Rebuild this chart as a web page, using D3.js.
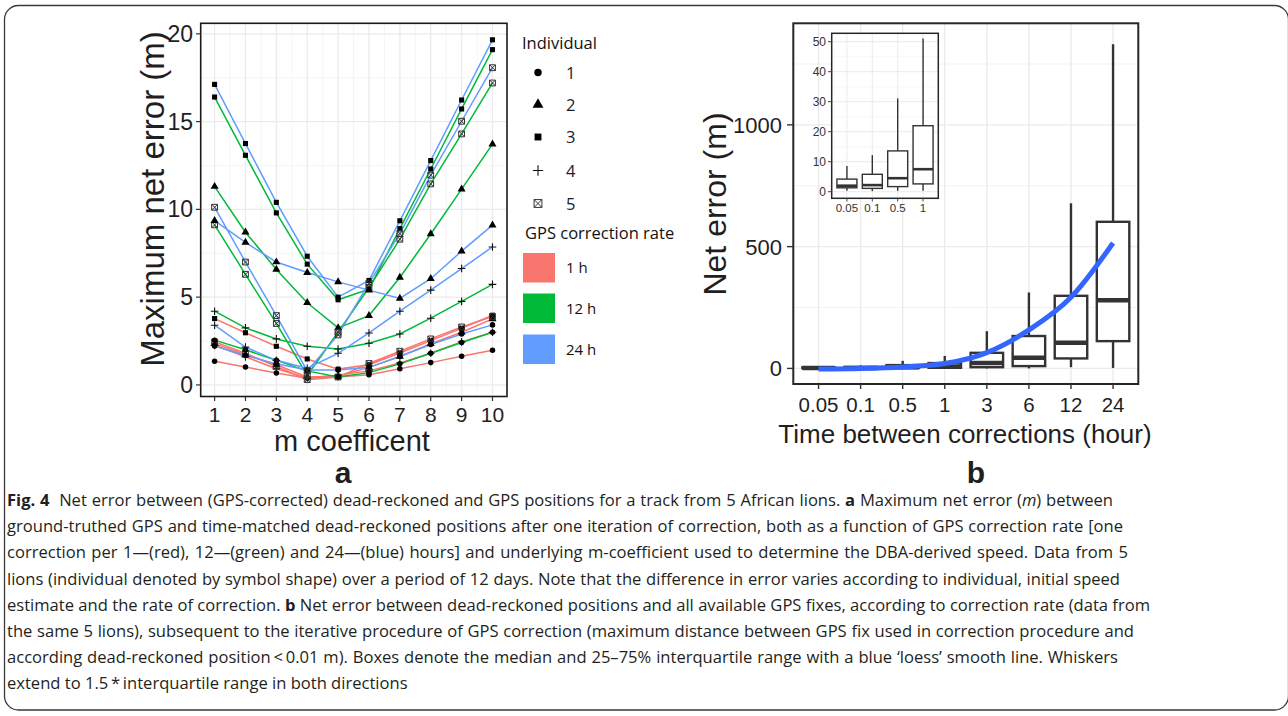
<!DOCTYPE html>
<html>
<head>
<meta charset="utf-8">
<script src="https://cdn.jsdelivr.net/npm/d3@7"></script>
<style>
  body { margin: 0; background: #fff; }
  svg { display: block; }
</style>
</head>
<body>
<svg id="fig" width="1288" height="716"></svg>
<script>
// ---- panel a data: max net error (m) per m coefficient ----
const mCoef = [1, 2, 3, 4, 5, 6, 7, 8, 9, 10];
const individuals = ["1", "2", "3", "4", "5"];
const rates = ["1 h", "12 h", "24 h"];
const rateColors = ["#F8766D", "#00BA38", "#619CFF"];

// one row per individual (1..5)
const err1h = [
  [1.35, 1.02, 0.68, 0.38, 0.45, 0.58, 0.92, 1.27, 1.63, 1.98],
  [2.35, 1.72, 1.15, 0.45, 0.5, 1.0, 1.62, 2.35, 3.0, 3.76],
  [3.78, 2.97, 2.2, 1.48, 0.9, 1.15, 1.82, 2.52, 3.22, 3.97],
  [2.25, 1.6, 0.92, 0.4, 0.55, 0.8, 1.25, 1.8, 2.45, 3.0],
  [2.45, 1.8, 1.05, 0.3, 0.45, 1.22, 1.92, 2.62, 3.3, 3.9]
];
const err12h = [
  [2.55, 2.0, 1.4, 0.8, 0.45, 0.7, 1.2, 1.8, 2.42, 3.0],
  [11.3, 8.7, 6.58, 4.68, 3.25, 3.95, 6.12, 8.6, 11.15, 13.72],
  [16.4, 13.08, 9.8, 6.88, 4.85, 5.45, 8.9, 12.3, 15.72, 19.1],
  [4.2, 3.25, 2.62, 2.2, 2.05, 2.37, 2.9, 3.8, 4.76, 5.73],
  [9.12, 6.3, 3.5, 0.55, 3.0, 5.55, 8.3, 11.45, 14.3, 17.2]
];
const err24h = [
  [2.22, 1.68, 1.2, 0.85, 0.85, 1.0, 1.62, 2.3, 2.9, 3.42],
  [9.36, 8.12, 7.0, 6.4, 5.87, 5.4, 4.93, 6.05, 7.62, 9.1],
  [17.12, 13.75, 10.4, 7.33, 5.0, 5.95, 9.35, 12.78, 16.23, 19.66],
  [3.4, 2.15, 1.4, 0.95, 1.8, 2.96, 4.2, 5.4, 6.63, 7.86],
  [10.12, 7.0, 3.95, 0.8, 2.85, 5.8, 8.62, 11.95, 15.02, 18.07]
];
const aTicks = [0, 5, 10, 15, 20];

// ---- panel b data: net error (m) by time between corrections ----
const hours = ["0.05", "0.1", "0.5", "1", "3", "6", "12", "24"];
const q1 = [1.3, 1.1, 1.7, 2.6, 5, 9.5, 41, 112];
const median = [2.0, 2.2, 4.5, 7.5, 22, 44, 105, 280];
const q3 = [4.2, 5.8, 13.6, 22, 64, 133, 298, 602];
const whiskLo = [0.3, 0.2, 0.3, 0.3, 0, 0, 5, 2];
const whiskHi = [8.6, 12.2, 31.1, 51.1, 153, 312, 678, 1331];
const loessFit = [-2, 0, 6, 20, 65, 158, 292, 515];
const bTicks = [0, 500, 1000];
const insetTicks = [0, 10, 20, 30, 40, 50];

const captionLines = [
  [["Fig. 4", "b"], ["  Net error between (GPS-corrected) dead-reckoned and GPS positions for a track from 5 African lions. ", ""], ["a", "b"], [" Maximum net error (", ""], ["m", "i"], [") between", ""]],
  [["ground-truthed GPS and time-matched dead-reckoned positions after one iteration of correction, both as a function of GPS correction rate [one", ""]],
  [["correction per 1\u2014(red), 12\u2014(green) and 24\u2014(blue) hours] and underlying m-coefficient used to determine the DBA-derived speed. Data from 5", ""]],
  [["lions (individual denoted by symbol shape) over a period of 12 days. Note that the difference in error varies according to individual, initial speed", ""]],
  [["estimate and the rate of correction. ", ""], ["b", "b"], [" Net error between dead-reckoned positions and all available GPS fixes, according to correction rate (data from", ""]],
  [["the same 5 lions), subsequent to the iterative procedure of GPS correction (maximum distance between GPS fix used in correction procedure and", ""]],
  [["according dead-reckoned position\u2009<\u20090.01 m). Boxes denote the median and 25\u201375% interquartile range with a blue \u2018loess\u2019 smooth line. Whiskers", ""]],
  [["extend to 1.5\u2009*\u2009interquartile range in both directions", ""]]
];
// justified right edges; the last line is left ragged
const captionRight = [1113, 1123, 1128, 1120, 1150, 1134, 1118, null];

const svg = d3.select("#fig");
const chartFont = "'Liberation Sans', Arial, sans-serif";
const ink = "#1f1f1f";

svg.append("rect")
  .attr("x", 4.5).attr("y", 5.5)
  .attr("width", 1284).attr("height", 704.5)
  .attr("rx", 14)
  .attr("fill", "#fff").attr("stroke", "#3a3a3a").attr("stroke-width", 1.3);

// ================= panel a =================
const ax = d3.scaleLinear().domain([0.55, 10.47]).range([200.7, 507]);
const ay = d3.scaleLinear().domain([-0.66, 20.6]).range([396.5, 23.3]);
const pa = svg.append("g").attr("class", "panel-a");

pa.selectAll("line.minor-y")
  .data([2.5, 7.5, 12.5, 17.5]).enter().append("line")
  .attr("x1", ax.range()[0]).attr("x2", ax.range()[1])
  .attr("y1", (d) => ay(d)).attr("y2", (d) => ay(d))
  .attr("stroke", "#f3f3f3").attr("stroke-width", 0.8);
pa.selectAll("line.minor-x")
  .data(d3.range(1.5, 10, 1)).enter().append("line")
  .attr("y1", ay.range()[0]).attr("y2", ay.range()[1])
  .attr("x1", (d) => ax(d)).attr("x2", (d) => ax(d))
  .attr("stroke", "#f3f3f3").attr("stroke-width", 0.8);
pa.selectAll("line.major-y")
  .data(aTicks).enter().append("line")
  .attr("x1", ax.range()[0]).attr("x2", ax.range()[1])
  .attr("y1", (d) => ay(d)).attr("y2", (d) => ay(d))
  .attr("stroke", "#ebebeb").attr("stroke-width", 1.3);
pa.selectAll("line.major-x")
  .data(mCoef).enter().append("line")
  .attr("y1", ay.range()[0]).attr("y2", ay.range()[1])
  .attr("x1", (d) => ax(d)).attr("x2", (d) => ax(d))
  .attr("stroke", "#ebebeb").attr("stroke-width", 1.3);

const allRates = [err1h, err12h, err24h];
const series = [];
allRates.forEach((rows, r) => {
  rows.forEach((vals, i) => {
    series.push({ rate: r, ind: i, pts: vals.map((v, k) => [mCoef[k], v]) });
  });
});

const aLine = d3.line().x((d) => ax(d[0])).y((d) => ay(d[1]));
pa.selectAll("path.series")
  .data(series).enter().append("path")
  .attr("d", (d) => aLine(d.pts))
  .attr("fill", "none")
  .attr("stroke", (d) => rateColors[d.rate])
  .attr("stroke-width", 1.5);

// ggplot shapes 16, 17, 15, 3, 7
function shapePath(ind, s) {
  if (ind === 0) return d3.symbol(d3.symbolCircle, 24 * s * s)();
  if (ind === 1) return d3.symbol(d3.symbolTriangle, 28 * s * s)();
  if (ind === 2) return d3.symbol(d3.symbolSquare, 26 * s * s)();
  const h = 3.8 * s;
  if (ind === 3) return "M" + -h + ",0H" + h + "M0," + -h + "V" + h;
  const q = 2.9 * s;
  return "M" + -q + "," + -q + "H" + q + "V" + q + "H" + -q + "Z" +
    "M" + -q + "," + -q + "L" + q + "," + q + "M" + q + "," + -q + "L" + -q + "," + q;
}
function styleShape(sel, ind, s) {
  const stroked = ind >= 3;
  sel.attr("d", shapePath(ind, s))
    .attr("fill", stroked ? "none" : "#000")
    .attr("stroke", stroked ? (ind === 4 ? "#333" : "#111") : "none")
    .attr("stroke-width", ind === 4 ? 1 : 1.1);
}

series.forEach((sr) => {
  pa.selectAll(null)
    .data(sr.pts).enter().append("path")
    .attr("transform", (d) => "translate(" + ax(d[0]) + "," + ay(d[1]) + ")")
    .each(function () { styleShape(d3.select(this), sr.ind, 1); });
});

pa.append("rect")
  .attr("x", ax.range()[0]).attr("y", ay.range()[1])
  .attr("width", ax.range()[1] - ax.range()[0])
  .attr("height", ay.range()[0] - ay.range()[1])
  .attr("fill", "none").attr("stroke", "#1a1a1a").attr("stroke-width", 1.6);

pa.selectAll("line.ytick")
  .data(aTicks).enter().append("line")
  .attr("x1", 196).attr("x2", 200.7)
  .attr("y1", (d) => ay(d)).attr("y2", (d) => ay(d))
  .attr("stroke", "#333").attr("stroke-width", 1.2);
pa.selectAll("text.ytick")
  .data(aTicks).enter().append("text")
  .attr("x", 193).attr("y", (d) => ay(d) + 8)
  .attr("text-anchor", "end")
  .style("font", "23px " + chartFont).attr("fill", ink)
  .text((d) => d);
pa.selectAll("line.xtick")
  .data(mCoef).enter().append("line")
  .attr("y1", 396.5).attr("y2", 401)
  .attr("x1", (d) => ax(d)).attr("x2", (d) => ax(d))
  .attr("stroke", "#333").attr("stroke-width", 1.2);
pa.selectAll("text.xtick")
  .data(mCoef).enter().append("text")
  .attr("x", (d) => ax(d)).attr("y", 421.5)
  .attr("text-anchor", "middle")
  .style("font", "21px " + chartFont).attr("fill", ink)
  .text((d) => d);

pa.append("text")
  .attr("transform", "translate(164,199) rotate(-90)")
  .attr("text-anchor", "middle")
  .style("font", "33px " + chartFont).attr("fill", ink)
  .text("Maximum net error (m)");
pa.append("text")
  .attr("x", 352).attr("y", 450.5)
  .attr("text-anchor", "middle")
  .style("font", "29px " + chartFont).attr("fill", ink)
  .text("m coefficent");
pa.append("text")
  .attr("x", 343).attr("y", 482.5)
  .attr("text-anchor", "middle")
  .style("font", "bold 30px " + chartFont).attr("fill", ink)
  .text("a");

// legend
const legFont = "'Open Sans', sans-serif";
const leg = svg.append("g").attr("class", "legend");
const legRows = [72.5, 104.5, 137, 170.5, 203.5];
leg.append("text")
  .attr("x", 522).attr("y", 49)
  .style("font", "16.5px " + legFont).attr("fill", "#111")
  .text("Individual");
individuals.forEach((name, i) => {
  leg.append("path")
    .attr("transform", "translate(538," + legRows[i] + ")")
    .each(function () { styleShape(d3.select(this), i, 1.35); });
  leg.append("text")
    .attr("x", 566).attr("y", legRows[i] + 6)
    .style("font", "16.5px " + legFont).attr("fill", "#1a1a2e")
    .text(name);
});
leg.append("text")
  .attr("x", 525).attr("y", 239)
  .style("font", "16.5px " + legFont).attr("fill", "#111")
  .text("GPS correction rate");
const keyTop = [253, 293.5, 334.5];
rates.forEach((name, r) => {
  leg.append("rect")
    .attr("x", 523).attr("y", keyTop[r])
    .attr("width", 32).attr("height", 29.5)
    .attr("fill", rateColors[r]);
  leg.append("text")
    .attr("x", 566).attr("y", keyTop[r] + 20)
    .style("font", "15px " + legFont).attr("fill", "#111")
    .text(name);
});

// ================= panel b =================
const bx = d3.scalePoint().domain(hours).range([793.3, 1138.3]).padding(0.6);
const by = d3.scaleLinear().domain([-64, 1417]).range([384, 23.3]);
const pb = svg.append("g").attr("class", "panel-b");

pb.selectAll("line.minor-y")
  .data([250, 750, 1250]).enter().append("line")
  .attr("x1", 793.3).attr("x2", 1138.3)
  .attr("y1", (d) => by(d)).attr("y2", (d) => by(d))
  .attr("stroke", "#f3f3f3").attr("stroke-width", 1);
pb.selectAll("line.major-y")
  .data(bTicks).enter().append("line")
  .attr("x1", 793.3).attr("x2", 1138.3)
  .attr("y1", (d) => by(d)).attr("y2", (d) => by(d))
  .attr("stroke", "#ebebeb").attr("stroke-width", 1.4);
pb.selectAll("line.major-x")
  .data(hours).enter().append("line")
  .attr("y1", 384).attr("y2", 23.3)
  .attr("x1", (d) => bx(d)).attr("x2", (d) => bx(d))
  .attr("stroke", "#ebebeb").attr("stroke-width", 1.4);

function drawBoxes(g, xs, ys, keys, boxW, lw, medW) {
  const rows = keys.map((k) => {
    const i = hours.indexOf(k);
    return { k: k, lo: whiskLo[i], q1: q1[i], med: median[i], q3: q3[i], hi: whiskHi[i] };
  });
  const bg = g.selectAll(null).data(rows).enter().append("g");
  bg.append("line")
    .attr("x1", (d) => xs(d.k)).attr("x2", (d) => xs(d.k))
    .attr("y1", (d) => ys(d.hi)).attr("y2", (d) => ys(d.q3))
    .attr("stroke", "#333").attr("stroke-width", lw);
  bg.append("line")
    .attr("x1", (d) => xs(d.k)).attr("x2", (d) => xs(d.k))
    .attr("y1", (d) => ys(d.q1)).attr("y2", (d) => ys(d.lo))
    .attr("stroke", "#333").attr("stroke-width", lw);
  bg.append("rect")
    .attr("x", (d) => xs(d.k) - boxW / 2).attr("width", boxW)
    .attr("y", (d) => ys(d.q3))
    .attr("height", (d) => ys(d.q1) - ys(d.q3))
    .attr("fill", "#fff").attr("stroke", "#333").attr("stroke-width", lw);
  bg.append("line")
    .attr("x1", (d) => xs(d.k) - boxW / 2).attr("x2", (d) => xs(d.k) + boxW / 2)
    .attr("y1", (d) => ys(d.med)).attr("y2", (d) => ys(d.med))
    .attr("stroke", "#333").attr("stroke-width", medW);
}
drawBoxes(pb, bx, by, hours, 32.5, 2.4, 4.5);

pb.append("path")
  .datum(hours.map((h, i) => [h, loessFit[i]]))
  .attr("d", d3.line().curve(d3.curveMonotoneX).x((d) => bx(d[0])).y((d) => by(d[1])))
  .attr("fill", "none").attr("stroke", "#3366FF").attr("stroke-width", 5);

pb.append("rect")
  .attr("x", 793.3).attr("y", 23.3)
  .attr("width", 345).attr("height", 360.7)
  .attr("fill", "none").attr("stroke", "#262626").attr("stroke-width", 2);

pb.selectAll("line.ytick")
  .data(bTicks).enter().append("line")
  .attr("x1", 787).attr("x2", 793.3)
  .attr("y1", (d) => by(d)).attr("y2", (d) => by(d))
  .attr("stroke", "#333").attr("stroke-width", 1.4);
pb.selectAll("text.ytick")
  .data(bTicks).enter().append("text")
  .attr("x", 782).attr("y", (d) => by(d) + 8)
  .attr("text-anchor", "end")
  .style("font", "22px " + chartFont).attr("fill", ink)
  .text((d) => d);
pb.selectAll("line.xtick")
  .data(hours).enter().append("line")
  .attr("y1", 384).attr("y2", 389)
  .attr("x1", (d) => bx(d)).attr("x2", (d) => bx(d))
  .attr("stroke", "#333").attr("stroke-width", 1.4);
pb.selectAll("text.xtick")
  .data(hours).enter().append("text")
  .attr("x", (d) => bx(d)).attr("y", 411.5)
  .attr("text-anchor", "middle")
  .style("font", "20.5px " + chartFont).attr("fill", ink)
  .text((d) => d);

pb.append("text")
  .attr("transform", "translate(726,204) rotate(-90)")
  .attr("text-anchor", "middle")
  .style("font", "32px " + chartFont).attr("fill", ink)
  .text("Net error (m)");
pb.append("text")
  .attr("x", 965).attr("y", 443)
  .attr("text-anchor", "middle")
  .style("font", "26px " + chartFont).attr("fill", ink)
  .text("Time between corrections (hour)");
pb.append("text")
  .attr("x", 976).attr("y", 482.5)
  .attr("text-anchor", "middle")
  .style("font", "bold 30px " + chartFont).attr("fill", ink)
  .text("b");

// inset: the four shortest intervals
const insetHours = hours.slice(0, 4);
const ix = d3.scalePoint().domain(insetHours).range([831.7, 938.3]).padding(0.6);
const iy = d3.scaleLinear().domain([-2.2, 52.8]).range([198.3, 33.3]);
const inset = svg.append("g").attr("class", "inset");
inset.append("rect")
  .attr("x", 831.7).attr("y", 33.3).attr("width", 106.6).attr("height", 165)
  .attr("fill", "#fff");
inset.selectAll("line.minor-y")
  .data([5, 15, 25, 35, 45]).enter().append("line")
  .attr("x1", 831.7).attr("x2", 938.3)
  .attr("y1", (d) => iy(d)).attr("y2", (d) => iy(d))
  .attr("stroke", "#f3f3f3").attr("stroke-width", 0.7);
inset.selectAll("line.major-y")
  .data(insetTicks).enter().append("line")
  .attr("x1", 831.7).attr("x2", 938.3)
  .attr("y1", (d) => iy(d)).attr("y2", (d) => iy(d))
  .attr("stroke", "#ebebeb").attr("stroke-width", 1);
inset.selectAll("line.major-x")
  .data(insetHours).enter().append("line")
  .attr("y1", 33.3).attr("y2", 198.3)
  .attr("x1", (d) => ix(d)).attr("x2", (d) => ix(d))
  .attr("stroke", "#ebebeb").attr("stroke-width", 1);
drawBoxes(inset, ix, iy, insetHours, 20, 1.4, 2.6);
inset.append("rect")
  .attr("x", 831.7).attr("y", 33.3).attr("width", 106.6).attr("height", 165)
  .attr("fill", "none").attr("stroke", "#262626").attr("stroke-width", 1.5);
inset.selectAll("line.ytick")
  .data(insetTicks).enter().append("line")
  .attr("x1", 828).attr("x2", 831.7)
  .attr("y1", (d) => iy(d)).attr("y2", (d) => iy(d))
  .attr("stroke", "#444").attr("stroke-width", 1);
inset.selectAll("text.ytick")
  .data(insetTicks).enter().append("text")
  .attr("x", 826).attr("y", (d) => iy(d) + 4.2)
  .attr("text-anchor", "end")
  .style("font", "12px " + chartFont).attr("fill", "#333")
  .text((d) => d);
inset.selectAll("line.xtick")
  .data(insetHours).enter().append("line")
  .attr("y1", 198.3).attr("y2", 201.5)
  .attr("x1", (d) => ix(d)).attr("x2", (d) => ix(d))
  .attr("stroke", "#444").attr("stroke-width", 1);
inset.selectAll("text.xtick")
  .data(insetHours).enter().append("text")
  .attr("x", (d) => ix(d)).attr("y", 212)
  .attr("text-anchor", "middle")
  .style("font", "11.5px " + chartFont).attr("fill", "#333")
  .text((d) => d);

// ================= caption =================
const capFont = "'Open Sans', Lato, sans-serif";
const cap = svg.append("g").attr("class", "caption");
const capTexts = captionLines.map((parts, li) => {
  const t = cap.append("text")
    .attr("x", 7).attr("y", 506 + li * 26.2)
    .style("font-family", capFont)
    .style("font-size", "16px")
    .attr("fill", "#231f20")
    .attr("xml:space", "preserve");
  parts.forEach((p) => {
    t.append("tspan")
      .attr("font-weight", p[1] === "b" ? "bold" : null)
      .attr("font-style", p[1] === "i" ? "italic" : null)
      .text(p[0]);
  });
  return t;
});
// largest size at which every justified line still fits
let capSize = 30;
capTexts.forEach((t, li) => {
  if (captionRight[li] === null) return;
  const w = t.node().getComputedTextLength();
  capSize = Math.min(capSize, 16 * (captionRight[li] - 7) / w);
});
capTexts.forEach((t, li) => {
  t.style("font-size", capSize + "px");
  if (captionRight[li] === null) return;
  const w = t.node().getComputedTextLength();
  const text = captionLines[li].map((p) => p[0]).join("");
  const gaps = text.split(" ").length - 1;
  t.style("word-spacing", Math.max(0, (captionRight[li] - 7 - w) / gaps) + "px");
});
</script>
</body>
</html>
